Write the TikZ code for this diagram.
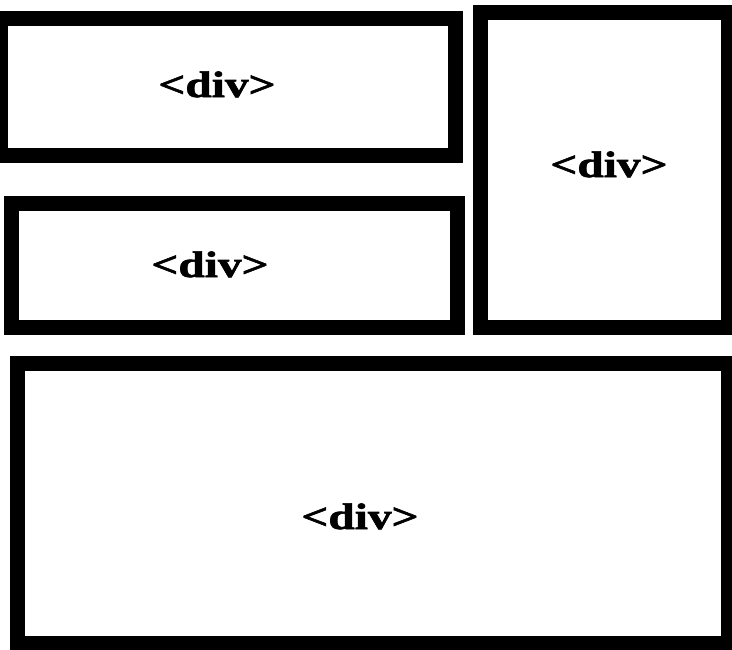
\documentclass[tikz,border=0pt]{standalone}
\usepackage{fontspec}
\setmainfont{Liberation Serif}
\newfontfamily\divfont{Liberation Serif Bold}[FakeBold=1.5]
\begin{document}
\begin{tikzpicture}[x=1pt,y=-1pt,
  divbox/.style={draw=black,line width=15pt,fill=white},
  divlabel/.style={anchor=base,inner sep=0pt,font=\divfont\fontsize{37}{37}\selectfont}]
\useasboundingbox (0,0) rectangle (732,649);
\fill[white] (0,0) rectangle (732,649);
\draw[divbox] (0,18.5) rectangle (455.5,155.5);
\draw[divbox] (11.5,203.5) rectangle (457.5,327.5);
\draw[divbox] (480.5,12.5) rectangle (728,327.5);
\draw[divbox] (17.5,363.5) rectangle (728,643.5);
\node[divlabel] (t1) at (217,97) {\scalebox{1.28}[1]{<div>}};
\node[divlabel] (t2) at (210,277) {\scalebox{1.28}[1]{<div>}};
\node[divlabel] (t3) at (609,177) {\scalebox{1.28}[1]{<div>}};
\node[divlabel] (t4) at (360,529) {\scalebox{1.28}[1]{<div>}};
\end{tikzpicture}
\end{document}
